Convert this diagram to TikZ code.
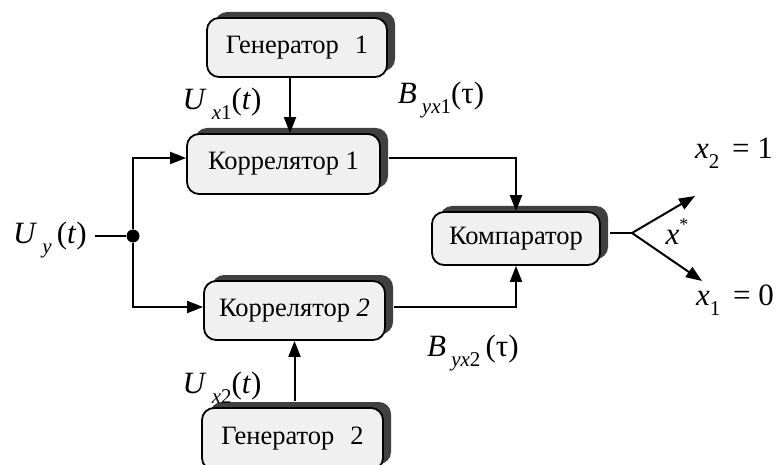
\documentclass[tikz,border=0pt]{standalone}
\usepackage{fontspec}
\setmainfont{Liberation Serif}
\usetikzlibrary{arrows.meta,calc,shadows}
\definecolor{boxfill}{HTML}{F0F0F0}
\definecolor{shadowgray}{HTML}{404040}
\newcommand{\mysub}[1]{\raisebox{-0.33em}{\fontsize{21}{23}\selectfont #1}}
\begin{document}
\begin{tikzpicture}[x=1pt,y=-1pt,
  blk/.style={draw=black, line width=1.8pt, rounded corners=12pt, fill=boxfill,
    inner sep=0pt, font=\fontsize{26.5}{30}\selectfont,
    general shadow={fill=shadowgray, shadow xshift=8pt, shadow yshift=6pt}},
  lbl/.style={inner sep=0pt, font=\fontsize{31}{34}\selectfont},
  conn/.style={line width=2pt},
  arr/.style={conn, -{Triangle[length=16pt,width=12pt]}}]
\useasboundingbox (0,0) rectangle (779,465);
\clip (0,0) rectangle (779,465);

% blocks
\node[blk, minimum width=180pt, minimum height=59pt] (gen1) at (297,47.5) {Генератор\hspace{0.6em}1};
\node[blk, minimum width=193pt, minimum height=60pt] (corr1) at (283.5,164) {Коррелятор 1};
\node[blk, minimum width=181pt, minimum height=59pt] (corr2) at (294.5,310.5) {Коррелятор \textit{2}};
\node[blk, minimum width=181pt, minimum height=62pt] (gen2) at (292.5,439) {Генератор\hspace{0.6em}2};
\node[blk, minimum width=168pt, minimum height=53pt] (comp) at (516,238.5) {Компаратор};

% labels
\node[lbl, anchor=east] (uy) at (87,240) {\textit{U}\,\mysub{\textit{y}}\,(\textit{t})};
\node[lbl] (ux1) at (222,104) {\textit{U}\,\mysub{\textit{x}1}(\textit{t})};
\node[lbl] (byx1) at (441,100) {\textit{B}\,\mysub{\textit{yx}1}(τ)};
\node[lbl] (ux2) at (222,388) {\textit{U}\,\mysub{\textit{x}2}(\textit{t})};
\node[lbl] (byx2) at (473,353) {\textit{B}\,\mysub{\textit{yx}2}\,(τ)};
\node[lbl] (xs) at (677,232) {\textit{x}\raisebox{0.45em}{\fontsize{18}{20}\selectfont *}};
\node[lbl] (x2) at (734,153) {\textit{x}\mysub{2}\, = 1};
\node[lbl] (x1) at (735,300) {\textit{x}\mysub{1}\, = 0};

% junction
\node[circle, fill=black, inner sep=0pt, minimum size=13pt] (dot) at (133,236) {};
\coordinate (fork) at (632,233);
\coordinate (o2) at (695,196);
\coordinate (o1) at (702,281);

% connectors
\draw[conn] ([xshift=8pt]uy.east |- dot) -- (dot);
\draw[arr] (dot) |- ([yshift=6pt]corr1.west);
\draw[arr] (dot) |- ([yshift=3.5pt]corr2.west);
\draw[arr] ([xshift=-7pt]gen1.south) -- ([xshift=-7pt]gen1.south |- corr1.north);
\draw[arr] ([yshift=6pt]gen2.north -| corr2.south) -- (corr2.south);
\draw[arr] ([xshift=8pt,yshift=6pt]corr1.east) -| (comp.north);
\draw[arr] ([xshift=8pt,yshift=3.5pt]corr2.east) -| (comp.south);
\draw[conn] ([xshift=9pt,yshift=5.5pt]comp.east) -- (fork);
\draw[arr] (fork) -- (o2);
\draw[arr] (fork) -- (o1);
\end{tikzpicture}
\end{document}
